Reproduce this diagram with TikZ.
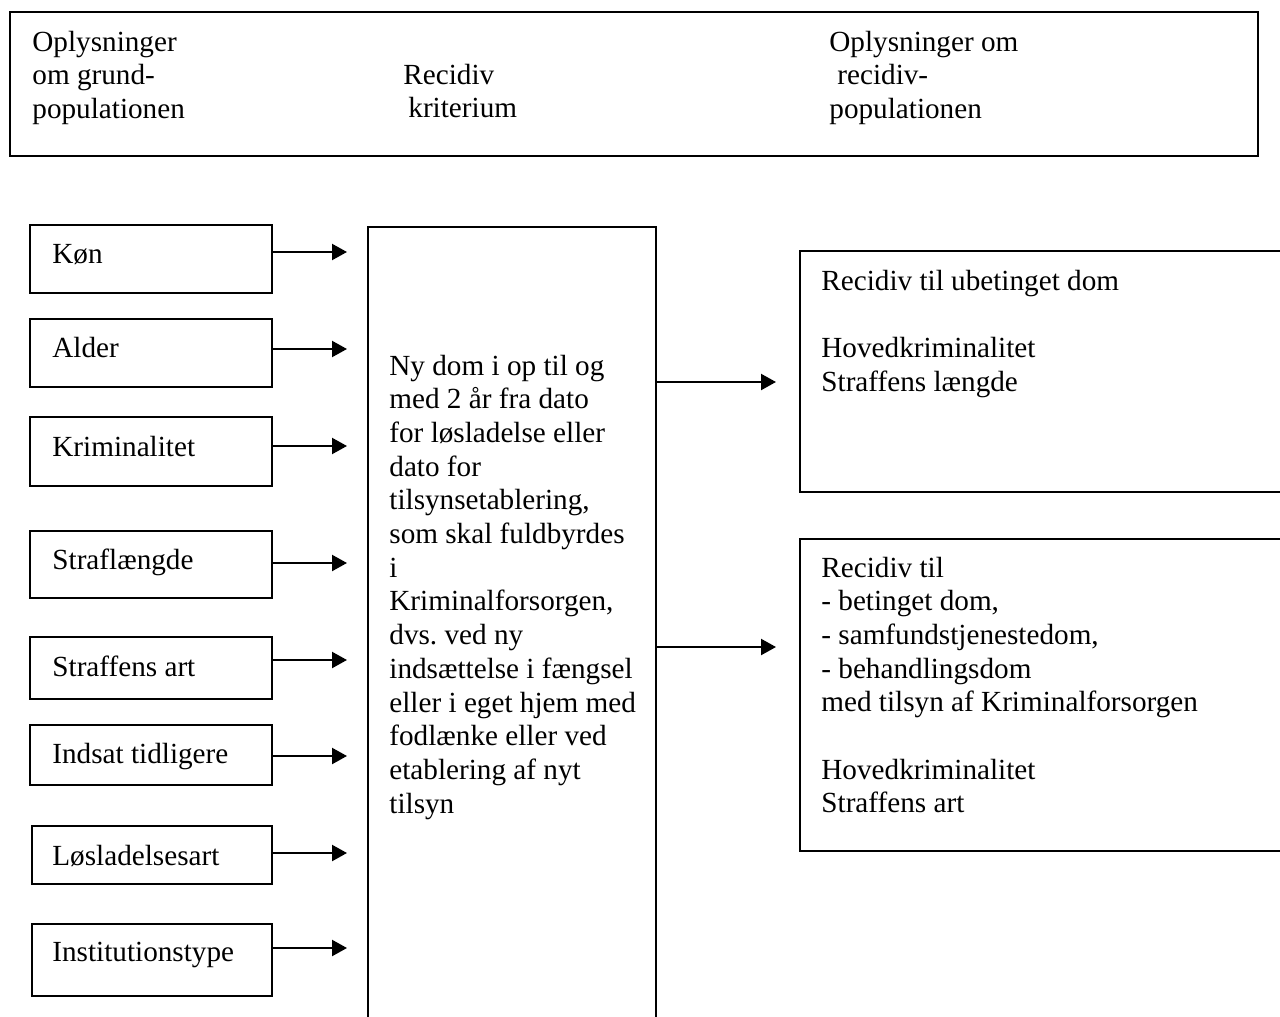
\documentclass[tikz,border=0pt]{standalone}
\usepackage{fontspec}
\setmainfont{Liberation Serif}
\usetikzlibrary{arrows.meta,fit}
\frenchspacing
\begin{document}
\begin{tikzpicture}[x=0.5pt,y=-0.5pt,
  box/.style={draw, line width=1.1pt, inner sep=0pt, rectangle},
  txt/.style={anchor=base west, inner sep=0pt, font=\fontsize{14.6pt}{16.85pt}\selectfont\frenchspacing},
  arr/.style={line width=1.1pt, -{Triangle[length=7.5pt,width=8pt]}}]
\clip (0,0) rectangle (1280,1017);
\fill[white] (0,0) rectangle (1280,1017);

% top header box
\node[box, fit={(10,12) (1258,156)}] (head) {};
\node[txt] (h1) at (32,51) {\parbox[t]{200pt}{Oplysninger\\om grund-\\populationen}};
\node[txt] (h2) at (403,84) {\parbox[t]{200pt}{Recidiv\\\hspace*{2.5pt}kriterium}};
\node[txt] (h3) at (829,51) {\parbox[t]{200pt}{Oplysninger om\\\hspace*{4pt}recidiv-\\populationen}};

% central criterion box (open at the bottom)
\node[box, fit={(368,227) (656,1040)}] (crit) {};
\node[txt] (ctext) at (389,375) {\parbox[t]{300pt}{Ny dom i op til og\\med 2 år fra dato\\for løsladelse eller\\dato for\\tilsynsetablering,\\som skal fuldbyrdes\\i\\Kriminalforsorgen,\\dvs. ved ny\\indsættelse i fængsel\\eller i eget hjem med\\fodlænke eller ved\\etablering af nyt\\tilsyn}};

% left input boxes
\foreach \n/\t/\xa/\ya/\yb/\yt/\yr in {
  kon/Køn/30/225/293/263/252,
  alder/Alder/30/319/387/357/349,
  krim/Kriminalitet/30/417/486/456/446,
  strafl/Straflængde/30/531/598/569/563,
  art/Straffens art/30/637/699/676/660,
  indsat/Indsat tidligere/30/725/785/763/756,
  losl/Løsladelsesart/32/826/884/865/853,
  inst/Institutionstype/32/924/996/961/948}{
  \node[box, fit={(\xa,\ya) (272,\yb)}] (\n) {};
  \node[txt] (\n t) at (52,\yt) {\t};
  \coordinate (\n a) at (347,\yr);
  \draw[arr] (\n.east |- \n a) -- (\n a);
}

% right output boxes (open to the right)
\node[box, fit={(800,251) (1300,492)}] (out1) {};
\node[txt] (o1t) at (821,290) {\parbox[t]{300pt}{Recidiv til ubetinget dom\\[16.85pt]Hovedkriminalitet\\Straffens længde}};
\node[box, fit={(800,539) (1300,851)}] (out2) {};
\node[txt] (o2t) at (821,577) {\parbox[t]{300pt}{Recidiv til\\- betinget dom,\\- samfundstjenestedom,\\- behandlingsdom\\med tilsyn af Kriminalforsorgen\\[16.85pt]Hovedkriminalitet\\Straffens art}};

% connectors from criterion box
\coordinate (c1) at (776,382);
\coordinate (c2) at (776,647);
\draw[arr] (crit.east |- c1) -- (c1);
\draw[arr] (crit.east |- c2) -- (c2);
\end{tikzpicture}
\end{document}
